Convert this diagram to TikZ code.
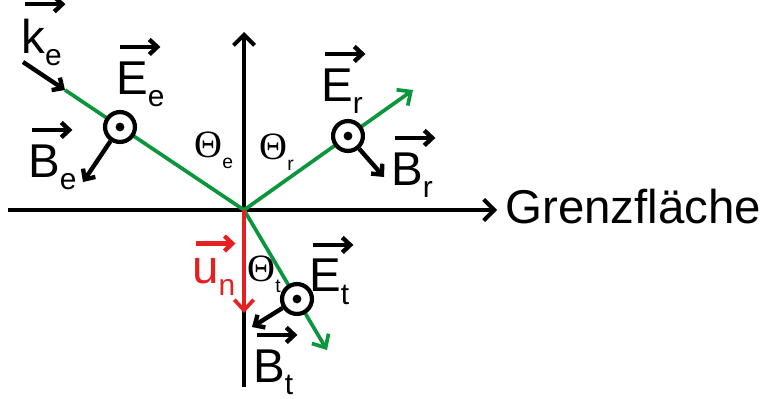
\documentclass[tikz,border=0pt]{standalone}
\usepackage{fontspec}
\setmainfont{Liberation Sans}
\newfontfamily\thetafont{Liberation Serif}
\usetikzlibrary{arrows.meta}

\definecolor{raygreen}{RGB}{10,150,60}
\definecolor{unred}{RGB}{228,32,32}

\newcommand{\lowsub}[1]{\raisebox{-0.26em}{\fontsize{17}{17}\selectfont #1}}
\newcommand{\thsub}[1]{\raisebox{-0.3em}{\rmfamily\fontsize{11}{11}\selectfont #1}}

\begin{document}
\begin{tikzpicture}[
    x=0.02cm, y=-0.02cm,
    lbl/.style={inner sep=0pt, anchor=base west, font=\fontsize{27}{30}\selectfont},
    ang/.style={inner sep=0pt, anchor=base west, font=\thetafont\fontsize{22}{24}\selectfont},
    axis/.style={line width=2.3pt, -{Straight Barb[length=6pt,width=12pt]}},
    ray/.style={line width=2.1pt, draw=raygreen},
    raytip/.style={-{Straight Barb[length=6pt,width=11pt]}},
    vec/.style={line width=2.5pt, -{Straight Barb[length=4.5pt,width=8.5pt]}},
    field/.style={circle, draw, line width=2.4pt, fill=white, minimum size=17pt, inner sep=0pt}
]
\useasboundingbox (0,0) rectangle (769,399);

% ---- Axes ----
\coordinate (O)  at (244,210);
\coordinate (xl) at (8,210);
\coordinate (xr) at (497,210);
\coordinate (yb) at (244,387);
\coordinate (yt) at (244,32);
\draw[axis] (xl) -- (xr);
\draw[axis] (yb) -- (yt);
\node[lbl] (grenz) at (505,223) {Grenzfläche};

% ---- Rays ----
\coordinate (kstart) at (23,62);
\coordinate (ein)    at (65,90);
\coordinate (rout)   at (413,90);
\coordinate (tout)   at (327,350);
\coordinate (unend)  at (244,313);
\draw[vec] (kstart) -- (ein);
\draw[ray] (ein) -- (O);
\draw[ray, raytip] (O) -- (rout);
\draw[ray, raytip] (O) -- (tout);
\draw[line width=2.1pt, unred, raytip] (O) -- (unend);

% ---- Field circles and B arrows ----
\node[field] (fe) at (120,127) {};
\node[field] (fr) at (348,136) {};
\node[field] (ft) at (297,299) {};
\foreach \f in {fe,fr,ft}
    \fill (\f.center) circle[radius=2.5pt];
\coordinate (betip) at (83,182);
\coordinate (brtip) at (384,177);
\coordinate (bttip) at (252,327);
\draw[vec] (fe) -- (betip);
\draw[vec] (fr) -- (brtip);
\draw[vec] (ft) -- (bttip);

% ---- Labels ----
\node[lbl] (ke) at (21,53)  {k\lowsub{e}};
\node[lbl] (ee) at (116,94) {E\lowsub{e}};
\node[lbl] (be) at (28,177) {B\lowsub{e}};
\node[lbl] (er) at (321,101) {E\lowsub{r}};
\node[lbl] (br) at (391,185) {B\lowsub{r}};
\node[lbl] (et) at (309,292) {E\lowsub{t}};
\node[lbl] (bt) at (253,382) {B\lowsub{t}};
\node[lbl, text=unred] (un) at (192,283) {u\lowsub{n}};
\foreach \v in {ke,ee,be,er,br,et,bt}
    \draw[vec] ([xshift=2.5pt,yshift=8pt]\v.north west) -- ++(40,0);
\draw[vec, unred] ([xshift=2pt,yshift=8pt]un.north west) -- ++(40,0);

% ---- Angles ----
\node[ang] (te) at (194,157) {Θ\thsub{e}};
\node[ang] (tr) at (259,159) {Θ\thsub{r}};
\node[ang] (tt) at (247,281) {Θ\thsub{t}};

\end{tikzpicture}
\end{document}
